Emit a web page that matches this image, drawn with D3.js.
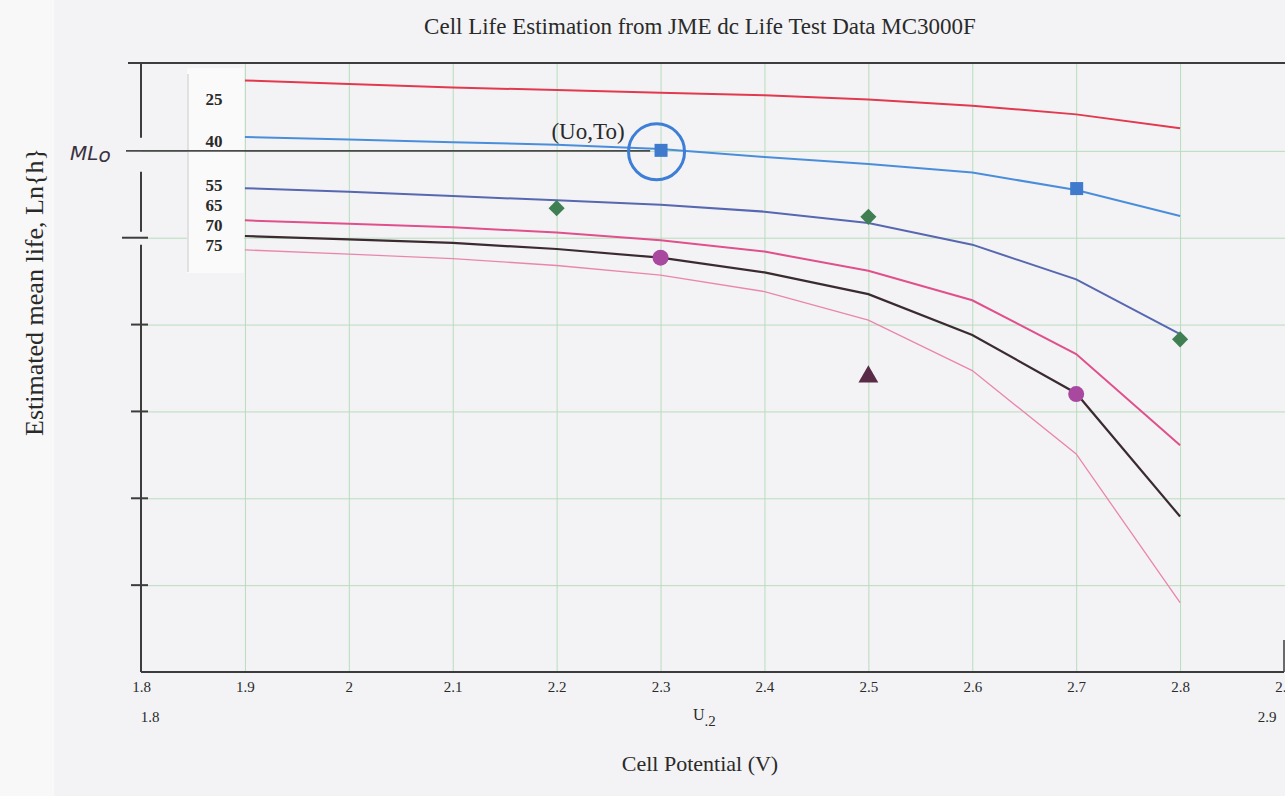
<!DOCTYPE html>
<html>
<head>
<meta charset="utf-8">
<script src="https://cdn.jsdelivr.net/npm/d3@7"></script>
<style>
body { margin: 0; background: #f3f3f5; }
svg { display: block; }
text { font-family: "Liberation Serif", "DejaVu Serif", serif; fill: #2a2a2a; }
</style>
</head>
<body>
<svg id="chart" width="1285" height="796"></svg>
<script>
// --- data ---
var potentials = [1.9, 2.0, 2.1, 2.2, 2.3, 2.4, 2.5, 2.6, 2.7, 2.8];
var temps = [25, 40, 55, 65, 70, 75];
var life25 = [11.81, 11.77, 11.73, 11.70, 11.67, 11.64, 11.59, 11.52, 11.42, 11.26];
var life40 = [11.16, 11.13, 11.10, 11.07, 11.02, 10.93, 10.85, 10.75, 10.55, 10.25];
var life55 = [10.57, 10.53, 10.48, 10.43, 10.38, 10.30, 10.17, 9.92, 9.52, 8.89];
var life65 = [10.20, 10.16, 10.12, 10.06, 9.97, 9.84, 9.62, 9.28, 8.66, 7.61];
var life70 = [10.02, 9.98, 9.94, 9.87, 9.77, 9.60, 9.35, 8.88, 8.21, 6.79];
var life75 = [9.86, 9.81, 9.76, 9.68, 9.57, 9.38, 9.05, 8.47, 7.51, 5.80];
var lineColors = ["#e2394f", "#4a8edb", "#5767b0", "#e0508c", "#3b2b31", "#ea86ad"];
var lineWidths = [2, 2, 2, 2, 2.2, 1.3];

// test points
var squarePts = [[2.3, 11.0], [2.7, 10.56]];
var diamondPts = [[2.2, 10.34], [2.5, 10.24], [2.8, 8.83]];
var circlePts = [[2.3, 9.77], [2.7, 8.20]];
var trianglePts = [[2.5, 8.40]];

var xTicks = [1.8, 1.9, 2, 2.1, 2.2, 2.3, 2.4, 2.5, 2.6, 2.7, 2.8, 2.9];
var yGrid = [6, 7, 8, 9, 10, 11];
var mlo = 11.0;

var svg = d3.select("#chart");

var x = d3.scaleLinear().domain([1.8, 2.9]).range([141, 1284]);
var y = d3.scaleLinear().domain([5, 12]).range([672, 64]);

// paper strip on the left
svg.append("rect").attr("x", 0).attr("y", 0).attr("width", 54).attr("height", 796).attr("fill", "#f8f8f9");

// grid
svg.append("g")
	.attr("transform", "translate(0,672)")
	.call(d3.axisBottom(x).tickValues(xTicks.slice(1, 11)).tickSize(-608).tickFormat(""))
	.call(function(g) { g.select(".domain").remove(); })
	.selectAll("line").attr("stroke", "#b9dcbc").attr("stroke-width", 1);
svg.append("g")
	.attr("transform", "translate(141,0)")
	.call(d3.axisLeft(y).tickValues(yGrid).tickSize(-1144).tickFormat(""))
	.call(function(g) { g.select(".domain").remove(); })
	.selectAll("line").attr("stroke", "#b9dcbc").attr("stroke-width", 1);

// legend panel
svg.append("rect").attr("x", 187).attr("y", 68).attr("width", 57).attr("height", 205).attr("fill", "#fafafa");
svg.append("line").attr("x1", 188).attr("x2", 188).attr("y1", 74).attr("y2", 272).attr("stroke", "#c8c8c8");
var legendY = [99, 141, 185, 205, 225, 245];
svg.selectAll("text.leg").data(temps).enter().append("text")
	.attr("class", "leg")
	.attr("x", 214).attr("y", function(d, i) { return legendY[i] + 6; })
	.attr("text-anchor", "middle").attr("font-size", 17).attr("font-weight", "bold")
	.text(function(d) { return d; });

// frame
var frame = svg.append("g").attr("stroke", "#3c3c3c").attr("fill", "none");
frame.append("line").attr("x1", 128).attr("x2", 1285).attr("y1", 63).attr("y2", 63).attr("stroke-width", 2);
frame.append("line").attr("x1", 141).attr("x2", 1284).attr("y1", 672).attr("y2", 672).attr("stroke-width", 2);
frame.append("line").attr("x1", 1284).attr("x2", 1284).attr("y1", 640).attr("y2", 672).attr("stroke-width", 1.5);
var axisSegs = [[12, 11.15], [10.76, 10.07], [9.92, 5]];
frame.selectAll("line.seg").data(axisSegs).enter().append("line")
	.attr("x1", 141).attr("x2", 141)
	.attr("y1", function(d) { return y(d[0]); }).attr("y2", function(d) { return y(d[1]); })
	.attr("stroke-width", 2);
frame.selectAll("line.tk").data([10, 9, 8, 7, 6]).enter().append("line")
	.attr("x1", function(d) { return d === 10 ? 122 : 131; }).attr("x2", 148)
	.attr("y1", function(d) { return y(d); }).attr("y2", function(d) { return y(d); })
	.attr("stroke-width", 2);

// MLo line
svg.append("line").attr("x1", 126).attr("x2", x(2.29))
	.attr("y1", y(mlo)).attr("y2", y(mlo))
	.attr("stroke", "#4a4a4a").attr("stroke-width", 1.6);
svg.append("text").attr("x", 70).attr("y", 160)
	.style("font-family", "DejaVu Sans").style("font-size", "20px").style("font-style", "italic").style("fill", "#3a3140")
	.text("ML").append("tspan").attr("dy", 2).text("o");

// curves
var series = [life25, life40, life55, life65, life70, life75];
var line = d3.line()
	.x(function(d, i) { return x(potentials[i]); })
	.y(function(d) { return y(d); });
svg.selectAll("path.curve").data(series).enter().append("path")
	.attr("class", "curve")
	.attr("fill", "none")
	.attr("stroke", function(d, i) { return lineColors[i]; })
	.attr("stroke-width", function(d, i) { return lineWidths[i]; })
	.attr("d", line);

// markers
svg.selectAll("rect.sq").data(squarePts).enter().append("rect")
	.attr("x", function(d) { return x(d[0]) - 6; }).attr("y", function(d) { return y(d[1]) - 7; })
	.attr("width", 13).attr("height", 13).attr("fill", "#3f7acd");
svg.selectAll("path.dia").data(diamondPts).enter().append("path")
	.attr("d", d3.symbol().type(d3.symbolSquare).size(130))
	.attr("transform", function(d) { return "translate(" + x(d[0]) + "," + y(d[1]) + ") rotate(45)"; })
	.attr("fill", "#3f7f52");
svg.selectAll("circle.dot").data(circlePts).enter().append("circle")
	.attr("cx", function(d) { return x(d[0]); }).attr("cy", function(d) { return y(d[1]); })
	.attr("r", 8).attr("fill", "#a9489f");
svg.selectAll("path.tri").data(trianglePts).enter().append("path")
	.attr("d", d3.symbol().type(d3.symbolTriangle).size(170))
	.attr("transform", function(d) { return "translate(" + x(d[0]) + "," + y(d[1]) + ")"; })
	.attr("fill", "#5a2b46");

// (Uo,To) circle
svg.append("circle").attr("cx", x(2.3) - 4).attr("cy", y(mlo) + 1).attr("r", 28)
	.attr("fill", "none").attr("stroke", "#3d7fd6").attr("stroke-width", 3);
svg.append("text").attr("x", 588).attr("y", 139).attr("text-anchor", "middle").attr("font-size", 23).text("(Uo,To)");

// x axis labels
var xAxis = svg.append("g")
	.attr("transform", "translate(0,672)")
	.call(d3.axisBottom(x).tickValues(xTicks).tickSize(0).tickPadding(9).tickFormat(d3.format("")));
xAxis.select(".domain").remove();
xAxis.selectAll("text").attr("font-family", "Liberation Serif").attr("font-size", 15).style("fill", "#2a2a2a");

svg.append("text").attr("x", 150).attr("y", 722).attr("text-anchor", "middle").attr("font-size", 15).text("1.8");
svg.append("text").attr("x", 1267).attr("y", 722).attr("text-anchor", "middle").attr("font-size", 15).text("2.9");
var u2 = svg.append("text").attr("x", 693).attr("y", 720).attr("font-size", 16).text("U");
u2.append("tspan").attr("dy", 6).attr("font-size", 15).text(".2");

// titles
svg.append("text").attr("x", 700).attr("y", 34).attr("text-anchor", "middle").attr("font-size", 23)
	.text("Cell Life Estimation from JME dc Life Test Data MC3000F");
svg.append("text").attr("x", 700).attr("y", 771).attr("text-anchor", "middle").attr("font-size", 22)
	.text("Cell Potential (V)");
svg.append("text").attr("transform", "translate(43,292) rotate(-90)").attr("text-anchor", "middle").attr("font-size", 26)
	.text("Estimated mean life, Ln{h}");
</script>
</body>
</html>
